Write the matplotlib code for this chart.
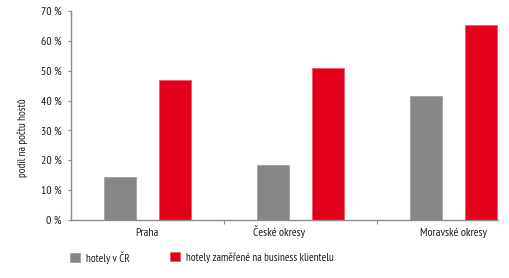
import matplotlib
matplotlib.use("Agg")
import matplotlib.pyplot as plt
from matplotlib.ticker import FuncFormatter

plt.rcParams['font.family'] = ['PT Sans Narrow', 'Fira Sans Condensed', 'Roboto Condensed', 'DejaVu Sans']

categories = ['Praha', 'České okresy', 'Moravské okresy']
label_pos = [0, 0.86, 2]
hotely_cr = [14.5, 18.5, 41.5]
hotely_business = [47.0, 51.0, 65.5]
series_names = ['hotely v ČR', 'hotely zaměřené na business klientelu']

gray = '#878787'
red = '#e2001a'
axis_col = '#8c8c8c'
txt = '#1a1a1a'
fs = 8.5

fig = plt.figure(figsize=(5.1, 2.78), dpi=100)
ax = fig.add_axes([0.139, 0.209, 0.837, 0.751])

x = list(range(len(categories)))
w = 0.21
off = 0.18
b1 = ax.bar([i - off for i in x], hotely_cr, w, color=gray,
            edgecolor='#a0a0a0', linewidth=0.6)
b2 = ax.bar([i + off for i in x], hotely_business, w, color=red,
            edgecolor='#ee5a6a', linewidth=0.6)

ax.set_xlim(-0.5, 2.29)
ax.set_ylim(0, 70)
ax.set_yticks(range(0, 71, 10))
ax.yaxis.set_major_formatter(FuncFormatter(lambda v, p: '%d %%' % v))
ax.tick_params(axis='y', length=2, width=0.8, color=axis_col, labelsize=fs,
               pad=4.5, labelcolor=txt)

# category separators below the axis
ax.set_xticks([0.5, 1.5])
ax.set_xticklabels([])
ax.tick_params(axis='x', length=3, width=0.8, color=axis_col, direction='out')

for pos, name in zip(label_pos, categories):
    ax.annotate(name, xy=(pos, 0), xycoords=('data', 'axes fraction'),
                xytext=(0, -11.5), textcoords='offset points',
                ha='center', va='baseline', fontsize=fs, color=txt)

for s in ['top', 'right']:
    ax.spines[s].set_visible(False)
for s in ['left', 'bottom']:
    ax.spines[s].set_color(axis_col)
    ax.spines[s].set_linewidth(1.0)

fig.text(0.045, 0.504, 'podíl na počtu hostů', rotation=90, ha='center',
         va='center', fontsize=8, color=txt)

for handle, name, xa in [(b1, series_names[0], 0.1375), (b2, series_names[1], 0.3335)]:
    fig.legend(handles=[handle], labels=[name], loc='center left',
               bbox_to_anchor=(xa, 0.074), frameon=False,
               fontsize=8, handlelength=0.85, handleheight=0.85,
               handletextpad=0.55, borderpad=0, borderaxespad=0,
               labelcolor=txt)

fig.savefig('out.png', dpi=100)
